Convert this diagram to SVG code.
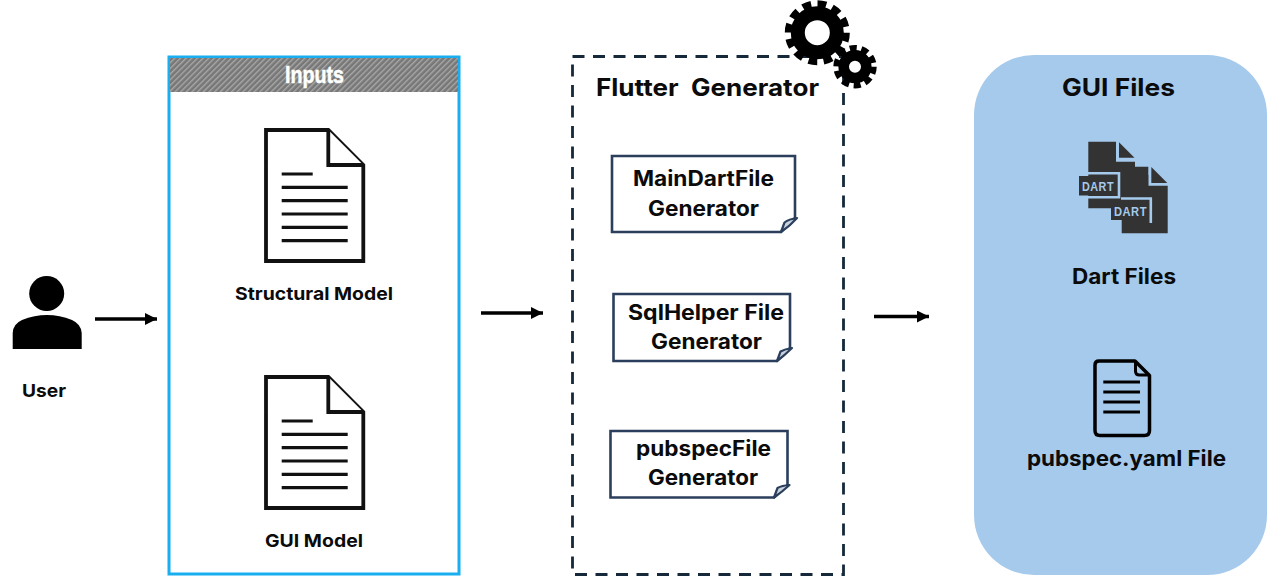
<svg xmlns="http://www.w3.org/2000/svg" width="1275" height="582" viewBox="0 0 1275 582">
<style>
text{font-family:"Inter","Liberation Sans",Arial,sans-serif;font-weight:700;fill:#0b0b0b;text-anchor:start}
.s{font-size:18px}.m{font-size:21px}.l{font-size:24px}
.note{fill:#fff;stroke:#2b3f5c;stroke-width:2.6;stroke-linejoin:miter}
.curl{fill:#c9d3df;stroke:#2b3f5c;stroke-width:2.2;stroke-linejoin:round}
.arrow{stroke:#000;stroke-width:3.4;fill:none;marker-end:url(#head)}
.doc{fill:#fff;stroke:#111;stroke-width:3.8;stroke-linejoin:miter}
.ln{stroke:#111;stroke-width:3.2;fill:none}
.dk{fill:#333}
.dt{font-size:13px;fill:#a6caec;font-family:"Liberation Sans",Arial,sans-serif;letter-spacing:.6px}
</style>
<defs>
<marker id="head" markerUnits="userSpaceOnUse" markerWidth="13" markerHeight="12" refX="12" refY="6" orient="auto"><path d="M0 0L12 6L0 12Z" fill="#000"/></marker>
<pattern id="hatch" width="4" height="4" patternUnits="userSpaceOnUse" patternTransform="rotate(-45)"><rect width="4" height="4" fill="#777"/><rect width="4" height="1.4" fill="#a8a8a8"/></pattern>
<g id="bigdoc">
<path class="doc" d="M266 130H328.300L363.300 165V261H266Z"/>
<path class="doc" d="M328.300 130V165H363.300"/>
<path class="ln" d="M281.700 174H312.700M281.700 187.300H347.700M281.700 200.700H347.700M281.700 214H347.700M281.700 227.300H347.700M281.700 240.700H347.700"/>
</g>
</defs>
<rect width="1275" height="582" fill="#fff"/>

<g id="user">
<circle cx="46.700" cy="293.500" r="17.500" fill="#000"/>
<path d="M12.700 349V333Q13 324 22 320Q47 310 72 320Q81 324 81.700 333V349Z" fill="#000"/>
<text class="s" x="22" y="397" textLength="44" lengthAdjust="spacingAndGlyphs">User</text>
</g>

<g id="inputs">
<rect x="169" y="57" width="290" height="517" fill="#fff" stroke="#19aef0" stroke-width="3"/>
<rect x="170" y="58" width="288" height="34" fill="url(#hatch)"/>
<text x="285" y="83" font-size="24" style="fill:#fff;font-family:'Liberation Sans',sans-serif" stroke="#fff" stroke-width=".5" textLength="59" lengthAdjust="spacingAndGlyphs">Inputs</text>
</g>
<g id="structural-model">
<use href="#bigdoc"/>
<text class="s" x="235" y="300" textLength="158" lengthAdjust="spacingAndGlyphs">Structural Model</text>
</g>
<g id="gui-model">
<use href="#bigdoc" y="247"/>
<text class="s" x="265" y="547" textLength="98" lengthAdjust="spacingAndGlyphs">GUI Model</text>
</g>

<g id="flutter-generator">
<rect x="572.500" y="56.500" width="271" height="518" fill="#fff" stroke="#16293b" stroke-width="2.800" stroke-dasharray="12 8.500"/>
<text class="l" x="596" y="96" textLength="223" lengthAdjust="spacingAndGlyphs" xml:space="preserve">Flutter  Generator</text>
</g>
<g id="gears" fill="none" stroke="#000">
<circle cx="817.300" cy="32.700" r="19.500" stroke-width="14"/>
<circle cx="817.300" cy="32.700" r="29" stroke-width="7" stroke-dasharray="8.800 6.384"/>
<circle cx="855" cy="66.700" r="11.300" stroke-width="10.600"/>
<circle cx="855" cy="66.700" r="18.500" stroke-width="6.400" stroke-dasharray="7 4.624"/>
</g>

<g id="main-dart-generator">
<path class="note" d="M612 156H795V218L781 232H612Z"/>
<path class="curl" d="M781 232L784.500 222.500Q789 219 797 218Q790 226 781 232Z"/>
<text class="m" x="633" y="186" textLength="141" lengthAdjust="spacingAndGlyphs">MainDartFile</text>
<text class="m" x="648" y="216" textLength="111" lengthAdjust="spacingAndGlyphs">Generator</text>
</g>
<g id="sqlhelper-generator">
<path class="note" d="M613.500 294H790V348L777 361H613.500Z"/>
<path class="curl" d="M777 361L780.500 351.500Q785 349 792 348Q785 355 777 361Z"/>
<text class="m" x="628" y="320" textLength="156" lengthAdjust="spacingAndGlyphs">SqlHelper File</text>
<text class="m" x="651" y="349" textLength="111" lengthAdjust="spacingAndGlyphs">Generator</text>
</g>
<g id="pubspec-generator">
<path class="note" d="M610.500 431H787.500V485L774 497.500H610.500Z"/>
<path class="curl" d="M774 497.500L777.500 488Q782 485.500 789.500 485Q782 492 774 497.500Z"/>
<text class="m" x="636" y="456" textLength="135" lengthAdjust="spacingAndGlyphs">pubspecFile</text>
<text class="m" x="648" y="485" textLength="110" lengthAdjust="spacingAndGlyphs">Generator</text>
</g>

<g id="gui-files">
<rect x="974" y="55" width="293" height="520" rx="60" fill="#a6caec"/>
<text class="l" x="1062" y="96" textLength="113" lengthAdjust="spacingAndGlyphs">GUI Files</text>
</g>
<g id="dart-files">
<path class="dk" d="M1121.700 166.700H1148.300V185.700H1167.700V233.300H1121.700Z"/>
<path class="dk" d="M1151.300 167L1167.300 183H1151.300Z"/>
<path class="dk" d="M1088.300 141.700H1116V161.700H1135V175H1148.300V208.300H1088.300Z"/>
<path class="dk" d="M1119 142.300L1134.500 157.700H1119Z"/>
<rect x="1121.700" y="208" width="26.600" height="12" class="dk"/>
<path d="M1088 173.300H1119V197.300H1088" fill="none" stroke="#a6caec" stroke-width="2.600"/>
<rect x="1079" y="176" width="38" height="19.500" fill="#333"/>
<text class="dt" x="1082" y="191" textLength="32" lengthAdjust="spacingAndGlyphs">DART</text>
<rect x="1111" y="199" width="39" height="21" class="dk"/>
<text class="dt" x="1114" y="216" textLength="33" lengthAdjust="spacingAndGlyphs">DART</text>
<rect x="1111" y="199" width="39" height="5.500" class="dk"/>
<path d="M1121 198.500H1150.800V223" fill="none" stroke="#a6caec" stroke-width="2.600"/>
<text class="m" x="1072" y="284" textLength="104" lengthAdjust="spacingAndGlyphs">Dart Files</text>
</g>
<g id="pubspec-file">
<path d="M1099 361H1135L1149.500 375.500V430.500Q1149.500 435.500 1144.500 435.500H1100Q1095 435.500 1095 430.500V365Q1095 361 1099 361Z" fill="none" stroke="#000" stroke-width="3.500" stroke-linejoin="round"/>
<path d="M1135.500 361V371Q1135.500 375 1139.500 375H1149.500" fill="none" stroke="#000" stroke-width="3"/>
<path d="M1103.300 382H1140M1103.300 392H1140M1103.300 402H1140M1103.300 412H1140" fill="none" stroke="#000" stroke-width="3"/>
<text class="m" x="1027" y="466" textLength="199" lengthAdjust="spacingAndGlyphs">pubspec.yaml File</text>
</g>

<g id="connectors">
<path class="arrow" d="M95 319H157"/>
<path class="arrow" d="M481 313H543"/>
<path class="arrow" d="M874 316.500H929"/>
</g>
</svg>
